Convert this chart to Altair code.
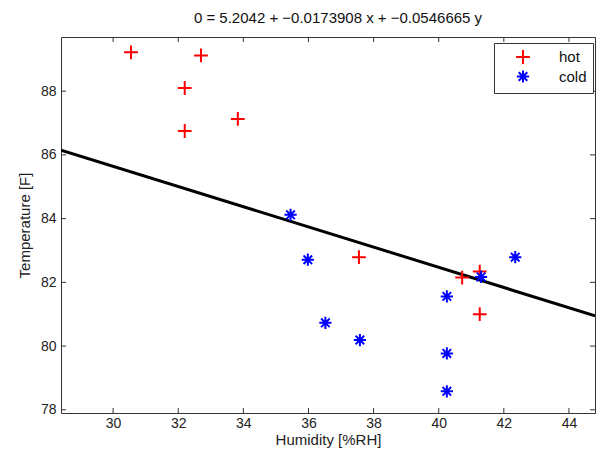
import altair as alt
import pandas as pd

# ---- data ----
hot_hum = [30.55, 32.7, 32.2, 32.2, 33.83, 37.55, 40.72, 41.26, 41.26]
hot_temp = [89.22, 89.12, 88.1, 86.75, 87.13, 82.79, 82.15, 82.34, 81.0]
cold_hum = [35.45, 35.98, 36.52, 37.58, 40.25, 40.25, 40.25, 41.3, 42.35]
cold_temp = [84.12, 82.71, 80.73, 80.19, 81.56, 79.77, 78.58, 82.17, 82.79]
line_hum = [28.4, 44.8]
line_temp = [86.15, 80.95]
x_ticks = [30, 32, 34, 36, 38, 40, 42, 44]
y_ticks = [78, 80, 82, 84, 86, 88]
series = ["hot", "cold"]
title_text = "0 = 5.2042 + \u22120.0173908 x + \u22120.0546665 y"

W, H = 534, 376
XDOM = [28.4, 44.8]
YDOM = [77.9, 89.7]
FONT = "Liberation Sans"

pts = pd.DataFrame({
    "hum": hot_hum + cold_hum,
    "temp": hot_temp + cold_temp,
    "cls": ["hot"] * len(hot_hum) + ["cold"] * len(cold_hum),
})
line_df = pd.DataFrame({"hum": line_hum, "temp": line_temp})
xt_df = pd.DataFrame({"hum": x_ticks})
yt_df = pd.DataFrame({"temp": y_ticks})

xs = alt.Scale(domain=XDOM, nice=False, zero=False)
ys = alt.Scale(domain=YDOM, nice=False, zero=False)

PLUS = "M-1,0L1,0M0,-1L0,1"
STAR = "M-1,0L1,0M0,-1L0,1M-0.7,-0.7L0.7,0.7M-0.7,0.7L0.7,-0.7"

xaxis = alt.Axis(values=x_ticks, ticks=False, grid=False, domain=False,
                 labelFontSize=14, labelColor="#222", labelPadding=3,
                 titleFontSize=15, titleFontWeight="normal", titleColor="#222",
                 titlePadding=2, labelFont=FONT, titleFont=FONT)
yaxis = alt.Axis(values=y_ticks, ticks=False, grid=False, domain=False,
                 labelFontSize=14, labelColor="#222", labelPadding=5,
                 titleFontSize=15, titleFontWeight="normal", titleColor="#222",
                 titlePadding=8, labelFont=FONT, titleFont=FONT)

line = alt.Chart(line_df).mark_line(color="black", strokeWidth=3, clip=True).encode(
    x=alt.X("hum:Q", scale=xs, title="Humidity [%RH]", axis=xaxis),
    y=alt.Y("temp:Q", scale=ys, title="Temperature [F]", axis=yaxis),
)

def leg():
    return alt.Legend(title=None, orient="none", legendX=433, legendY=6)

points = alt.Chart(pts).mark_point(filled=False, strokeWidth=2, opacity=1).encode(
    x=alt.X("hum:Q", scale=xs),
    y=alt.Y("temp:Q", scale=ys),
    shape=alt.Shape("cls:N", scale=alt.Scale(domain=series, range=[PLUS, STAR]), legend=leg()),
    color=alt.Color("cls:N", scale=alt.Scale(domain=series, range=["#ff0000", "#0000ff"]), legend=leg()),
    size=alt.Size("cls:N", scale=alt.Scale(domain=series, range=[190, 150]), legend=leg()),
)

bot = alt.Chart(xt_df).mark_rule(color="#333", strokeWidth=1).encode(
    x=alt.X("hum:Q", scale=xs), y=alt.value(H), y2=alt.value(H - 5))
top = alt.Chart(xt_df).mark_rule(color="#333", strokeWidth=1).encode(
    x=alt.X("hum:Q", scale=xs), y=alt.value(0), y2=alt.value(5))
left = alt.Chart(yt_df).mark_rule(color="#333", strokeWidth=1).encode(
    y=alt.Y("temp:Q", scale=ys), x=alt.value(0), x2=alt.value(5))
right = alt.Chart(yt_df).mark_rule(color="#333", strokeWidth=1).encode(
    y=alt.Y("temp:Q", scale=ys), x=alt.value(W), x2=alt.value(W - 5))

chart = alt.layer(line, points, bot, top, left, right).properties(
    width=W, height=H,
    title=alt.TitleParams(title_text, fontSize=15, fontWeight="normal", font=FONT,
                          color="#111", anchor="middle", offset=11, dx=10),
    autosize=alt.AutoSizeParams(type="none"),
    padding={"left": 61, "top": 37, "right": 2, "bottom": 43},
    background="white",
).configure_view(stroke="#333", strokeWidth=1).configure_legend(
    strokeColor="#333", fillColor="white", padding=6,
    labelFont=FONT, labelFontSize=15, labelColor="#111",
    labelOffset=28, rowPadding=-2, symbolStrokeWidth=2, symbolOffset=15,
    symbolFillColor="transparent", cornerRadius=0,
)

chart.save("out.html", embed_options={"renderer": "svg", "actions": False})
